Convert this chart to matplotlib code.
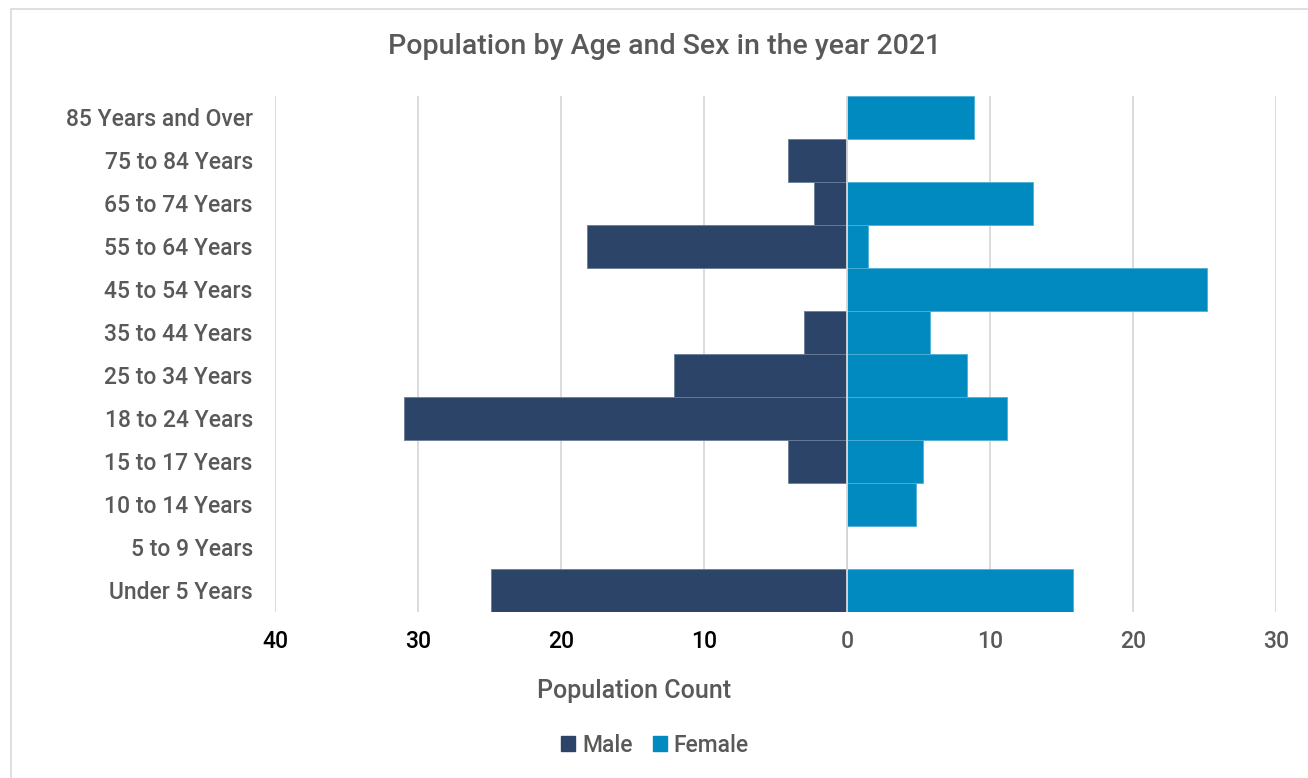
import matplotlib.pyplot as plt
from matplotlib.patches import Rectangle, Patch

plt.rcParams["font.family"] = ["Roboto", "DejaVu Sans"]

age_groups = [
    "85 Years and Over", "75 to 84 Years", "65 to 74 Years", "55 to 64 Years",
    "45 to 54 Years", "35 to 44 Years", "25 to 34 Years", "18 to 24 Years",
    "15 to 17 Years", "10 to 14 Years", "5 to 9 Years", "Under 5 Years",
]
male = [0, 4.1, 2.3, 18.2, 0, 3.0, 12.1, 31.0, 4.1, 0, 0, 24.9]
female = [8.9, 0, 13.0, 1.5, 25.2, 5.8, 8.4, 11.2, 5.3, 4.8, 0, 15.8]
tick_values = [-40, -30, -20, -10, 0, 10, 20, 30]
tick_labels = ["40", "30", "20", "10", "0", "10", "20", "30"]

MALE_C = "#2B4468"
FEMALE_C = "#008ABF"
GREY = "#595959"

fig = plt.figure(figsize=(13.08, 7.78), dpi=100)
ax = fig.add_axes([275 / 1308, 1 - 611.5 / 778, 1001 / 1308, 516 / 778])

# bottom row first so the oldest group sits on top
ypos = list(range(len(age_groups)))[::-1]
ax.barh(ypos, [-m for m in male], height=1.0, color=MALE_C,
        edgecolor="#6A7C98", linewidth=0.6, label="Male", zorder=3)
ax.barh(ypos, female, height=1.0, color=FEMALE_C,
        edgecolor="#4FB0D8", linewidth=0.6, label="Female", zorder=3)

ax.set_xlim(-40, 30)
ax.set_ylim(-0.5, len(age_groups) - 0.5)
ax.set_xticks(tick_values)
ax.set_xticklabels(tick_labels, fontsize=16.5, fontweight="medium")
for lbl, v in zip(ax.get_xticklabels(), tick_values):
    lbl.set_color("black" if v < 0 else GREY)
ax.set_yticks(ypos)
ax.set_yticklabels(age_groups, fontsize=16.5, color=GREY, fontweight="medium")
ax.tick_params(axis="both", length=0)
ax.tick_params(axis="y", pad=16)
ax.tick_params(axis="x", pad=13)
ax.xaxis.grid(True, color="#D9D9D9", linewidth=1.3, zorder=0)
for s in ax.spines.values():
    s.set_visible(False)
ax.axvline(0, color="#D9D9D9", linewidth=1.3, zorder=4)

fig.text(665 / 1308, 1 - 47 / 778, "Population by Age and Sex in the year 2021",
         ha="center", va="center", fontsize=20.5, color=GREY, fontweight="medium")
fig.text(634 / 1308, 1 - 691 / 778, "Population Count",
         ha="center", va="center", fontsize=18, color=GREY, fontweight="medium")

handles = [Patch(color=MALE_C, label="Male"), Patch(color=FEMALE_C, label="Female")]
leg = fig.legend(handles=handles, loc="center", bbox_to_anchor=(655 / 1308, 1 - 745 / 778),
                 ncol=2, frameon=False, fontsize=16.5, handlelength=0.6, handleheight=0.6,
                 handletextpad=0.3, columnspacing=0.9, labelcolor=GREY)
for t in leg.get_texts():
    t.set_fontweight("medium")

# light chart-area border
fig.patches.append(Rectangle((11 / 1308, -0.05), 1.1, 1.05 - 9 / 778,
                             transform=fig.transFigure, fill=False,
                             edgecolor="#D9D9D9", linewidth=1.2))

fig.savefig("out.png", dpi=100, facecolor="white")
